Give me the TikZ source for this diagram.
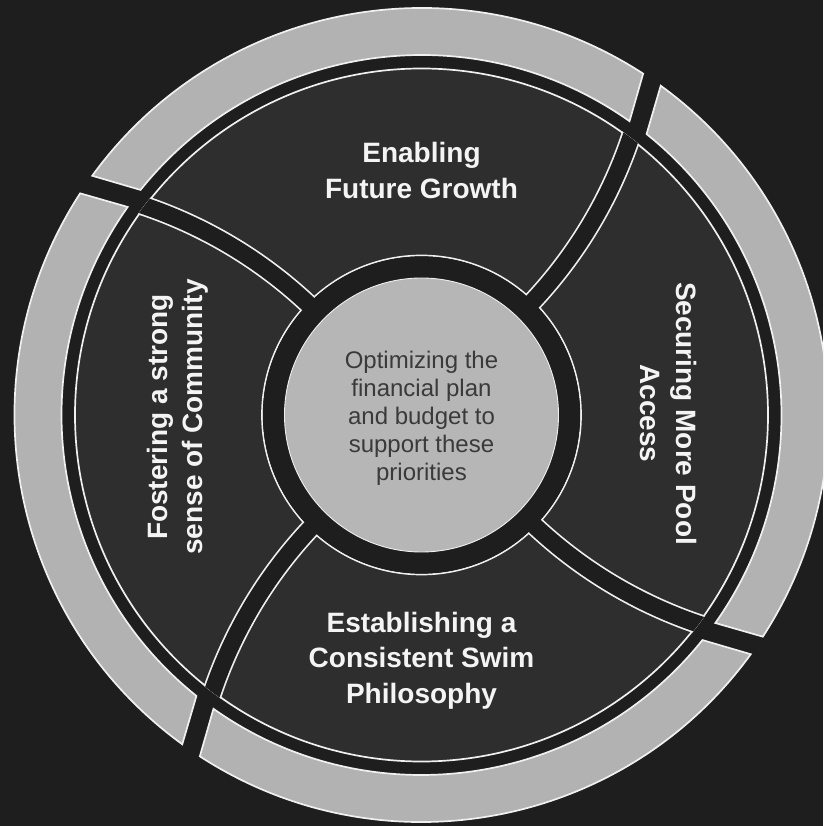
\documentclass[tikz,border=0pt]{standalone}
\usepackage{fontspec}
\setmainfont{Liberation Sans}
\definecolor{bgc}{HTML}{1E1E1E}
\definecolor{secc}{HTML}{2E2E2E}
\definecolor{ringc}{HTML}{B2B2B2}
\definecolor{ctrc}{HTML}{B6B6B6}
\definecolor{edgec}{HTML}{F0F0F0}
\definecolor{ctxt}{HTML}{3A3A3A}
\definecolor{ltxt}{HTML}{F4F4F4}
\begin{document}
\begin{tikzpicture}[x=1pt,y=1pt,
  wline/.style={draw=edgec, line width=1.7pt},
  lbl/.style={text=ltxt, font=\fontsize{28}{34}\selectfont\bfseries, inner sep=0pt, anchor=base},
  ctr/.style={text=ctxt, font=\fontsize{24}{28}\selectfont, inner sep=0pt, anchor=base}]
\useasboundingbox (-421.5,-411) rectangle (401.5,415);
\fill[bgc] (-421.5,-411) rectangle (401.5,415);
\clip (-421.5,-411) rectangle (401.5,415);
% outer ring segments
\foreach \k in {0,1,2,3}{
  \filldraw[fill=ringc, wline, rotate=90*\k] (57:407) arc[start angle=57,end angle=144,radius=407]
     -- (141.3:360) arc[start angle=141.3,end angle=54.7,radius=360] -- cycle;
}
% inner sectors
\fill[secc] (0,0) circle (346.5);
\draw[wline] (0,0) circle (346.5);
\draw[wline] (0,0) circle (159.5);
\begin{scope}
  \clip (0,0) circle (347.35);
  \foreach \k in {0,1,2,3}{
    \draw[edgec, line width=20.4pt, rotate=90*\k] (-218.8,422.1) ++(-50:451.8)
       arc[start angle=-50,end angle=-12,radius=451.8];
    \draw[bgc, line width=17pt, rotate=90*\k] (-218.8,422.1) ++(-50:451.8)
       arc[start angle=-50,end angle=-12,radius=451.8];
  }
\end{scope}
% centre
\fill[bgc] (0,0) circle (158.65);
\filldraw[fill=ctrc, draw=edgec, line width=0.9pt] (0,0) circle (137);
% labels
\node[lbl] (en1) at (0,252.3) {Enabling};
\node[lbl] (en2) at (0,216.6) {Future Growth};
\node[lbl] (es1) at (0,-217) {Establishing a};
\node[lbl] (es2) at (0,-252.3) {Consistent Swim};
\node[lbl] (es3) at (0,-288) {Philosophy};
\node[lbl, rotate=90] (fo1) at (-254,-2) {Fostering a strong};
\node[lbl, rotate=90] (fo2) at (-218.5,-2) {sense of Community};
\node[lbl, rotate=-90] (se1) at (254.5,1.5) {Securing More Pool};
\node[lbl, rotate=-90] (se2) at (218.5,1.5) {Access};
\node[ctr] (c1) at (0,46.5) {Optimizing the};
\node[ctr] (c2) at (0,18.6) {financial plan};
\node[ctr] (c3) at (0,-9.3) {and budget to};
\node[ctr] (c4) at (0,-37.2) {support these};
\node[ctr] (c5) at (0,-65.1) {priorities};
\end{tikzpicture}
\end{document}
